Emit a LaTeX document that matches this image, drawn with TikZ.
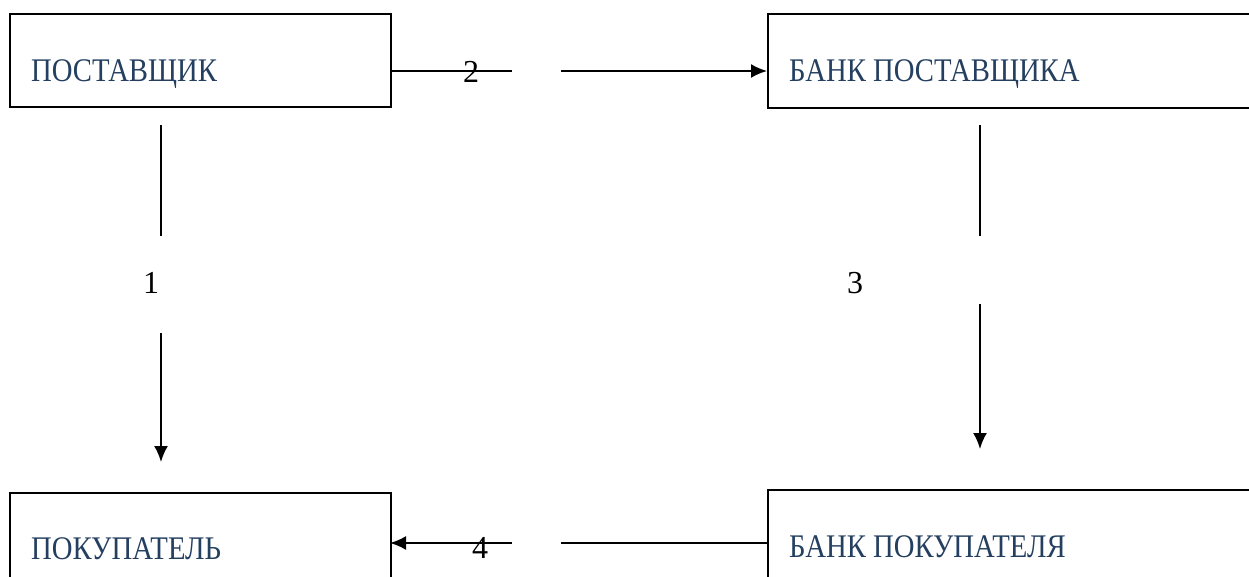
\documentclass[tikz,border=0pt]{standalone}
\usepackage{fontspec}
\setmainfont{Liberation Serif}
\usetikzlibrary{arrows.meta}
\definecolor{txtblue}{HTML}{243F60}
\begin{document}
\begin{tikzpicture}[x=1pt,y=-1pt,
  box/.style={draw,line width=2pt,rectangle,inner sep=0pt,anchor=north west},
  lbl/.style={anchor=base west,inner sep=0pt,text=txtblue,font=\fontsize{33}{38}\selectfont,xscale=0.87,transform shape},
  num/.style={anchor=base,inner sep=0pt,font=\fontsize{32}{36}\selectfont},
  ln/.style={line width=2pt},
  arr/.style={line width=2pt,-{Latex[length=16pt,width=14pt]}}]
\useasboundingbox (0,0) rectangle (1249,577);
% boxes
\node[box,minimum width=381pt,minimum height=93pt] (sup) at (9,13) {};
\node[box,minimum width=500pt,minimum height=94pt] (bsup) at (767,13) {};
\node[box,minimum width=381pt,minimum height=120pt] (buy) at (9,492) {};
\node[box,minimum width=500pt,minimum height=120pt] (bbuy) at (767,489) {};
% texts
\node[lbl] (tsup) at (31,82) {ПОСТАВЩИК};
\node[lbl] (tbsup) at (789,82) {БАНК ПОСТАВЩИКА};
\node[lbl] (tbuy) at (31,559) {ПОКУПАТЕЛЬ};
\node[lbl] (tbbuy) at (789,557) {БАНК ПОКУПАТЕЛЯ};
% coordinates
\coordinate (a2s) at (390,71);
\coordinate (a2m) at (512,71);
\coordinate (a2n) at (561,71);
\coordinate (a2e) at (767,71);
\coordinate (a1s) at (161,125);
\coordinate (a1m) at (161,236);
\coordinate (a1n) at (161,333);
\coordinate (a1e) at (161,462);
\coordinate (a3s) at (980,125);
\coordinate (a3m) at (980,236);
\coordinate (a3n) at (980,304);
\coordinate (a3e) at (980,449);
\coordinate (a4s) at (767,543);
\coordinate (a4m) at (561,543);
\coordinate (a4n) at (512,543);
\coordinate (a4e) at (390,543);
% connectors
\draw[ln] (a2s) -- (a2m);
\draw[arr] (a2n) -- (a2e);
\draw[ln] (a1s) -- (a1m);
\draw[arr] (a1n) -- (a1e);
\draw[ln] (a3s) -- (a3m);
\draw[arr] (a3n) -- (a3e);
\draw[ln] (a4s) -- (a4m);
\draw[arr] (a4n) -- (a4e);
% numbers
\node[num] (n2) at (471,83) {2};
\node[num] (n1) at (151,293) {1};
\node[num] (n3) at (855,293) {3};
\node[num] (n4) at (480,558) {4};
\end{tikzpicture}
\end{document}
